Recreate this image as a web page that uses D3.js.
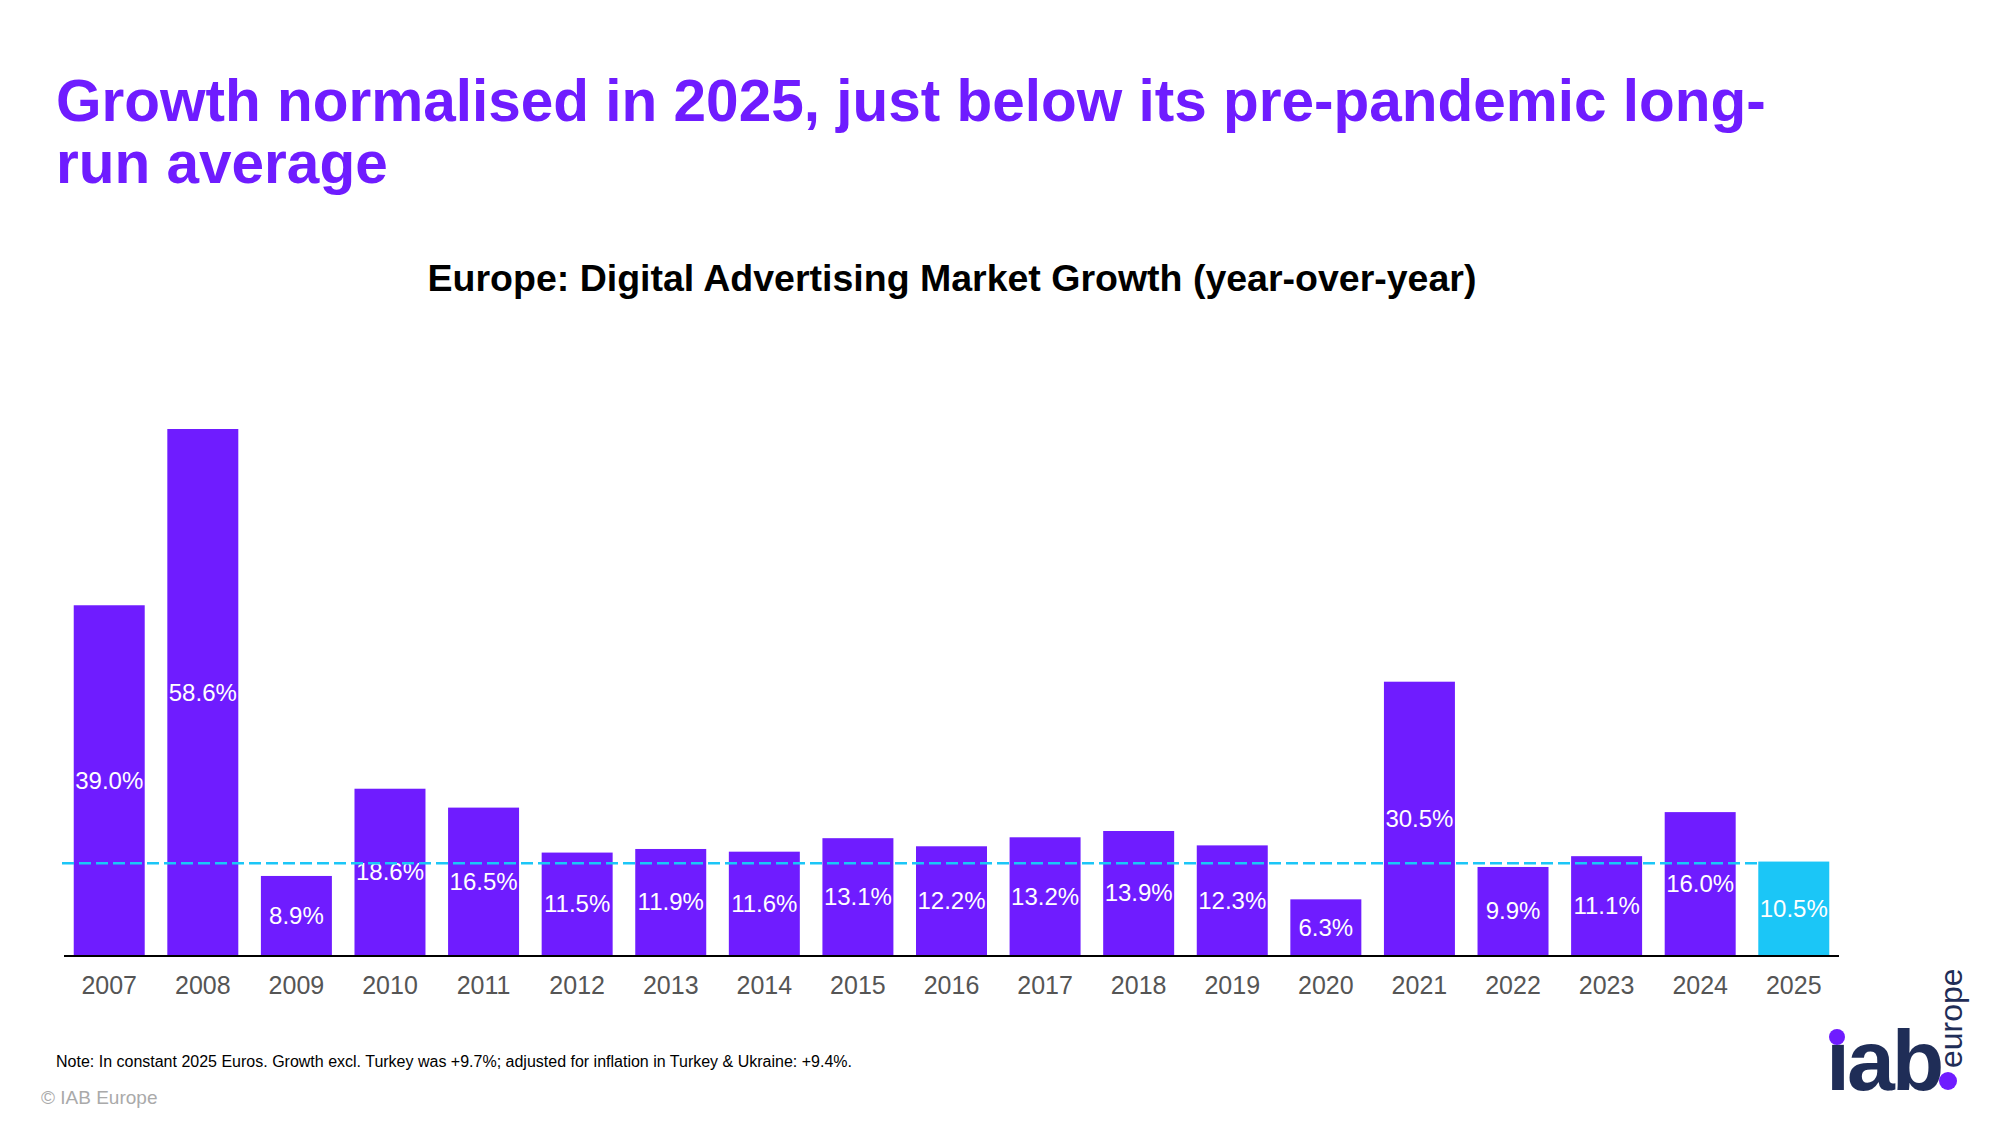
<!DOCTYPE html>
<html lang="en">
<head>
<meta charset="UTF-8">
<title>Europe: Digital Advertising Market Growth</title>
<script src="https://d3js.org/d3.v7.min.js"></script>
<style>
  body { margin: 0; background: #fff; }
  svg text { font-family: "Liberation Sans", Arial, sans-serif; }
</style>
</head>
<body>
<div id="chart"></div>
<script>
  // Year-over-year growth, %
  const data = [
    {year: "2007", value: 39.0}, {year: "2008", value: 58.6}, {year: "2009", value: 8.9},
    {year: "2010", value: 18.6}, {year: "2011", value: 16.5}, {year: "2012", value: 11.5},
    {year: "2013", value: 11.9}, {year: "2014", value: 11.6}, {year: "2015", value: 13.1},
    {year: "2016", value: 12.2}, {year: "2017", value: 13.2}, {year: "2018", value: 13.9},
    {year: "2019", value: 12.3}, {year: "2020", value: 6.3}, {year: "2021", value: 30.5},
    {year: "2022", value: 9.9}, {year: "2023", value: 11.1}, {year: "2024", value: 16.0},
    {year: "2025", value: 10.5}
  ];
  const longRunAvg = 10.3;

  const W = 2000, H = 1125;
  const svg = d3.select("#chart").append("svg").attr("width", W).attr("height", H);

  // Headline
  const title = svg.append("text").attr("x", 56).attr("fill", "#6F1CFF")
    .style("font-size", "58.5px").style("font-weight", "bold");
  title.append("tspan").attr("x", 56).attr("y", 121).text("Growth normalised in 2025, just below its pre-pandemic long-");
  title.append("tspan").attr("x", 56).attr("y", 183).text("run average");

  svg.append("text").attr("x", 952).attr("y", 291).attr("text-anchor", "middle")
    .style("font-size", "37.5px").style("font-weight", "bold").attr("fill", "#000")
    .text("Europe: Digital Advertising Market Growth (year-over-year)");

  // Scales
  const base = 956;
  const x = d3.scaleBand().domain(data.map(d => d.year)).range([62.5, 1840.5])
    .paddingInner(0.2415).paddingOuter(0.12);
  const y = d3.scaleLinear().domain([0, 58.6]).range([base, 429]);

  svg.selectAll(".bar").data(data).enter().append("rect")
    .attr("x", d => x(d.year)).attr("width", x.bandwidth())
    .attr("y", d => y(d.value)).attr("height", d => y(0) - y(d.value))
    .attr("fill", d => d.year === "2025" ? "#1BC6F7" : "#6F1CFF");

  svg.selectAll(".lbl").data(data).enter().append("text")
    .attr("x", d => x(d.year) + x.bandwidth() / 2)
    .attr("y", d => (y(d.value) + y(0)) / 2 + 8)
    .attr("text-anchor", "middle").attr("fill", "#fff").style("font-size", "24px")
    .text(d => d.value.toFixed(1) + "%");

  // Long-run average
  svg.append("line").attr("x1", 62).attr("x2", 1760).attr("y1", y(longRunAvg)).attr("y2", y(longRunAvg))
    .attr("stroke", "#1BC6F7").attr("stroke-width", 2.5).attr("stroke-dasharray", "12,5");

  // X axis
  const xAxis = svg.append("g").attr("transform", `translate(0,${base})`)
    .call(d3.axisBottom(x).tickSize(0).tickPadding(20));
  xAxis.select(".domain").attr("stroke", "#000").attr("stroke-width", 2).attr("d", "M64,0H1839");
  xAxis.selectAll("text").style("font-size", "25px").attr("fill", "#555")
    .style("font-family", "Liberation Sans, Arial, sans-serif");

  // Footer
  svg.append("text").attr("x", 56).attr("y", 1067).style("font-size", "16px").attr("fill", "#000")
    .text("Note: In constant 2025 Euros. Growth excl. Turkey was +9.7%; adjusted for inflation in Turkey & Ukraine: +9.4%.");
  svg.append("text").attr("x", 41).attr("y", 1104).style("font-size", "19px").attr("fill", "#aaa")
    .text("© IAB Europe");

  // Logo
  const logo = svg.append("g");
  logo.append("text").attr("x", 1826).attr("y", 1090).attr("fill", "#1F2D57")
    .style("font-size", "86px").style("font-weight", "bold").style("letter-spacing", "-3px").text("ıab");
  logo.append("circle").attr("cx", 1837).attr("cy", 1037).attr("r", 8).attr("fill", "#6F1CFF");
  logo.append("circle").attr("cx", 1948).attr("cy", 1081).attr("r", 9).attr("fill", "#6F1CFF");
  logo.append("text").attr("transform", "translate(1962,1068) rotate(-90)").attr("fill", "#1F2D57")
    .style("font-size", "32px").text("europe");
</script>
</body>
</html>
